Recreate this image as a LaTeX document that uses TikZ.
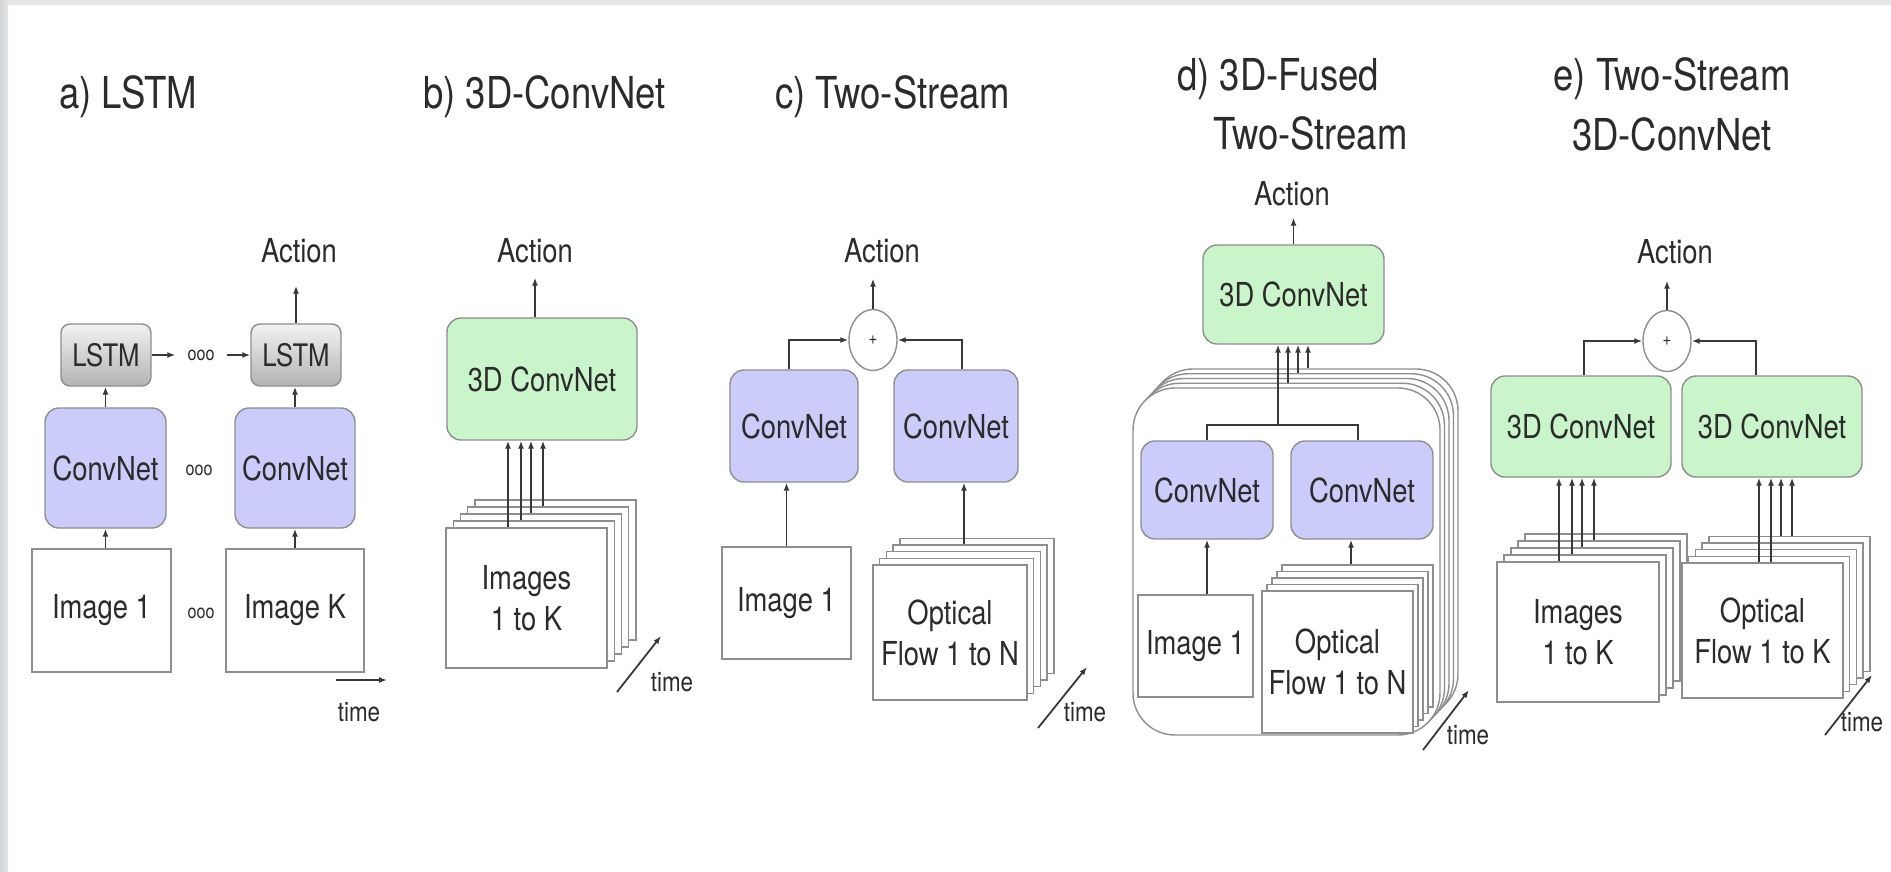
\documentclass[tikz,border=0pt]{standalone}
\usepackage{fontspec}
\setmainfont{TeX Gyre Heros}[FakeStretch=0.83]
\usetikzlibrary{arrows.meta, shapes.geometric, positioning}

\definecolor{txt}{HTML}{2B2B2B}
\definecolor{edge}{HTML}{8E8E8E}
\definecolor{convblue}{HTML}{CCCCFA}
\definecolor{convgreen}{HTML}{CAF5CA}
\definecolor{rimleft}{HTML}{D2D4D6}
\definecolor{rimright}{HTML}{E3E4E5}
\definecolor{rimtop}{HTML}{E5E6E7}

\begin{document}
\begin{tikzpicture}[x=1pt, y=-1pt,
    every node/.style={text=txt},
    heading/.style={anchor=base west, inner sep=0pt, font=\fontsize{44}{58}\selectfont},
    lab/.style={font=\fontsize{33}{41}\selectfont, align=center},
    act/.style={anchor=base, inner xsep=0pt, inner ysep=#1, font=\fontsize{33}{41}\selectfont},
    act/.default=16pt,
    lstm/.style={draw=edge, line width=1.4pt, rounded corners=9pt, top color=black!5, bottom color=black!30, minimum width=90pt, minimum height=62pt, inner sep=0pt, font=\fontsize{31}{31}\selectfont},
    conv/.style={draw=edge, line width=1.4pt, fill=convblue, rounded corners=14pt, inner sep=0pt, lab},
    conv3d/.style={conv, fill=convgreen},
    sheet/.style={draw=edge, line width=1.4pt, fill=white, inner sep=0pt, lab},
    sum/.style={ellipse, draw=edge, line width=1.4pt, fill=white, minimum width=48pt, minimum height=61pt, inner sep=0pt, font=\fontsize{18}{18}\selectfont},
    ellip/.style={inner xsep=12pt, inner ysep=2pt, font=\fontsize{19.5}{19.5}\selectfont},
    timelbl/.style={inner sep=0pt, font=\fontsize{27}{27}\selectfont},
    wire/.style={line width=1.8pt, draw=black!78},
    flow/.style={wire, -{Latex[length=8pt, width=6pt]}}
  ]
    \fill[white] (0,0) rectangle (1891,871);
    \fill[left color=rimleft, right color=rimright] (0,0) rectangle (8,871);
    \fill[rimtop] (8,0) rectangle (1891,5);
    \useasboundingbox (0,0) rectangle (1891,871);

    \node[heading] (aTitle) at (59,108) {a) LSTM};
    \node[lstm] (aL1) at (106,355) {LSTM};
    \node[lstm] (aL2) at (296,355) {LSTM};
    \node[conv, minimum width=121pt, minimum height=120pt] (aC1) at (105.5,468) {ConvNet};
    \node[conv, minimum width=120pt, minimum height=120pt] (aC2) at (295,468) {ConvNet};
    \node[sheet, minimum width=139pt, minimum height=123pt] (aI1) at (101.5,610.5) {Image 1};
    \node[sheet, minimum width=138pt, minimum height=123pt] (aIK) at (295,610.5) {Image K};
    \node[ellip] (aD1) at (201,355) {ooo};
    \node[ellip] (aD2) at (199,470) {ooo};
    \node[ellip] (aD3) at (201,613) {ooo};
    \node[act=23pt] (aAct) at (299,262) {Action};
    \node[timelbl] (aT) at (359,712) {time};
    \coordinate (aT0) at (336,680);
    \coordinate (aT1) at (387,680);
    \draw[flow] (aI1.north -| aC1.south) -- (aC1.south);
    \draw[flow] (aIK.north) -- (aC2.south);
    \draw[flow] (aC1.north) -- (aC1.north |- aL1.south);
    \draw[flow] (aC2.north) -- (aC2.north |- aL2.south);
    \draw[flow] (aL1) -- (aD1);
    \draw[flow] (aD1) -- (aL2);
    \draw[flow] (aL2.north) -- (aL2.north |- aAct.south);
    \draw[flow] (aT0) -- (aT1);

    \node[heading] (bTitle) at (423,108) {b) 3D-ConvNet};
    \node[conv3d, minimum width=190pt, minimum height=122pt] (bNet) at (542,379) {3D ConvNet};
    \node[act=15pt] (bAct) at (535,262) {Action};
    \coordinate (bS) at (526.5,598);
    \foreach \k in {4,...,1}
        \node[sheet, minimum width=161pt, minimum height=140pt] (bS\k) at ([shift={(7.2*\k,-7*\k)}]bS) {};
    \node[sheet, minimum width=161pt, minimum height=140pt] (bImg) at (bS) {Images\\1 to K};
    \foreach \dx/\k in {-18.5/0,-5.5/1,4.5/2,16.5/3}
        \draw[flow] ([shift={(\dx,-7*\k)}]bImg.north) coordinate (bIn\k) -- (bIn\k |- bNet.south);
    \draw[flow] (bAct.south |- bNet.north) -- (bAct.south);
    \node[timelbl] (bT) at (672,682) {time};
    \coordinate (bT0) at (617,692);
    \coordinate (bT1) at (661,636);
    \draw[flow] (bT0) -- (bT1);

    \node[heading] (cTitle) at (775,108) {c) Two-Stream};
    \node[sum] (cSum) at (873,340) {+};
    \node[act=16pt] (cAct) at (882,262) {Action};
    \node[conv, minimum width=128pt, minimum height=112pt] (cC1) at (794,426) {ConvNet};
    \node[conv, minimum width=124pt, minimum height=112pt] (cC2) at (956,426) {ConvNet};
    \node[sheet, minimum width=129pt, minimum height=112pt] (cI1) at (786.5,603) {Image 1};
    \coordinate (cS) at (950,632.5);
    \foreach \k in {4,...,1}
        \node[sheet, minimum width=154pt, minimum height=135pt] (cS\k) at ([shift={(6.7*\k,-6.7*\k)}]cS) {};
    \node[sheet, minimum width=154pt, minimum height=135pt] (cF) at (cS) {Optical\\Flow 1 to N};
    \draw[flow] (cI1.north) -- (cI1.north |- cC1.south);
    \draw[flow] ([shift={(14,-6.7*3)}]cF.north) coordinate (cIn) -- (cIn |- cC2.south);
    \draw[flow] ([xshift=-5pt]cC1.north) |- (cSum);
    \draw[flow] ([xshift=6pt]cC2.north) |- (cSum);
    \draw[flow] (cSum) -- (cSum |- cAct.south);
    \node[timelbl] (cT) at (1085,712) {time};
    \coordinate (cT0) at (1038,728);
    \coordinate (cT1) at (1087,667);
    \draw[flow] (cT0) -- (cT1);

    \node[heading] (dTitle) at (1177,90) {d) 3D-Fused};
    \node[heading] (dTitleB) at (1213,149) {Two-Stream};
    \node[act=12pt] (dAct) at (1292,205) {Action};
    \node[conv3d, minimum width=181pt, minimum height=99pt] (dNet) at (1293.5,294.5) {3D ConvNet};
    \coordinate (dS) at (1286.5,561.5);
    \foreach \k in {4,...,1}
        \node[sheet, rounded corners=42pt, minimum width=307pt, minimum height=347pt] (dS\k) at ([shift={(4.5*\k,-4.75*\k)}]dS) {};
    \node[sheet, rounded corners=42pt, minimum width=307pt, minimum height=347pt] (dBox) at (dS) {};
    \node[conv, minimum width=132pt, minimum height=98pt] (dC1) at (1207,490) {ConvNet};
    \node[conv, minimum width=142pt, minimum height=98pt] (dC2) at (1362,490) {ConvNet};
    \node[sheet, minimum width=115pt, minimum height=102pt] (dI1) at (1195.5,646) {Image 1};
    \coordinate (dF0) at (1337.5,662);
    \foreach \k in {4,...,1}
        \node[sheet, minimum width=151pt, minimum height=142pt] (dF\k) at ([shift={(5*\k,-6.5*\k)}]dF0) {};
    \node[sheet, minimum width=151pt, minimum height=142pt] (dF) at (dF0) {Optical\\Flow 1 to N};
    \coordinate (dJ) at (1278,425);
    \draw[wire] (dC1.north) |- (dJ) -| ([xshift=-4pt]dC2.north);
    \draw[flow] (dJ) -- (dJ |- dNet.south);
    \foreach \dx/\k in {1.5/1,11.5/3,21.5/4}
        \draw[flow] ([shift={(\dx,-4.75*\k)}]dBox.north) coordinate (dIn\k) -- (dIn\k |- dNet.south);
    \draw[flow] (dI1.north -| dC1.south) -- (dC1.south);
    \draw[flow] ([shift={(13.5,-6.5*4)}]dF.north) coordinate (dIn) -- (dIn |- dC2.south);
    \draw[flow] (dNet.north) -- (dNet.north |- dAct.south);
    \node[timelbl] (dT) at (1468,735) {time};
    \coordinate (dT0) at (1423,750);
    \coordinate (dT1) at (1469,690);
    \draw[flow] (dT0) -- (dT1);

    \node[heading, anchor=base] (eTitle) at (1672,90) {e) Two-Stream};
    \node[heading, anchor=base] (eTitleB) at (1672,150) {3D-ConvNet};
    \node[act=17pt] (eAct) at (1675,263) {Action};
    \node[sum] (eSum) at (1667,341) {+};
    \node[conv3d, minimum width=180pt, minimum height=101pt] (eN1) at (1581,426.5) {3D ConvNet};
    \node[conv3d, minimum width=180pt, minimum height=101pt] (eN2) at (1772,426.5) {3D ConvNet};
    \coordinate (eS) at (1578,632);
    \foreach \k in {4,...,1}
        \node[sheet, minimum width=162pt, minimum height=140pt] (eS\k) at ([shift={(7*\k,-7*\k)}]eS) {};
    \node[sheet, minimum width=162pt, minimum height=140pt] (eImg) at (eS) {Images\\1 to K};
    \coordinate (eR) at (1762.5,630.5);
    \foreach \k in {4,...,1}
        \node[sheet, minimum width=161pt, minimum height=135pt] (eR\k) at ([shift={(6.7*\k,-6.7*\k)}]eR) {};
    \node[sheet, minimum width=161pt, minimum height=135pt] (eF) at (eR) {Optical\\Flow 1 to K};
    \foreach \dx/\k in {-19/0,-6/1,4/2,16/3}
        \draw[flow] ([shift={(\dx,-7*\k)}]eImg.north) coordinate (eIn\k) -- (eIn\k |- eN1.south);
    \foreach \dx/\k/\n in {-3.5/0/a,8.5/0/b,18.5/4/c,29.5/4/d}
        \draw[flow] ([shift={(\dx,-6.7*\k)}]eF.north) coordinate (eFin\n) -- (eFin\n |- eN2.south);
    \draw[flow] ([xshift=3pt]eN1.north) |- (eSum);
    \draw[flow] ([xshift=-16pt]eN2.north) |- (eSum);
    \draw[flow] (eSum) -- (eSum |- eAct.south);
    \node[timelbl] (eT) at (1862,722) {time};
    \coordinate (eT0) at (1825,735);
    \coordinate (eT1) at (1872,675);
    \draw[flow] (eT0) -- (eT1);
\end{tikzpicture}
\end{document}
